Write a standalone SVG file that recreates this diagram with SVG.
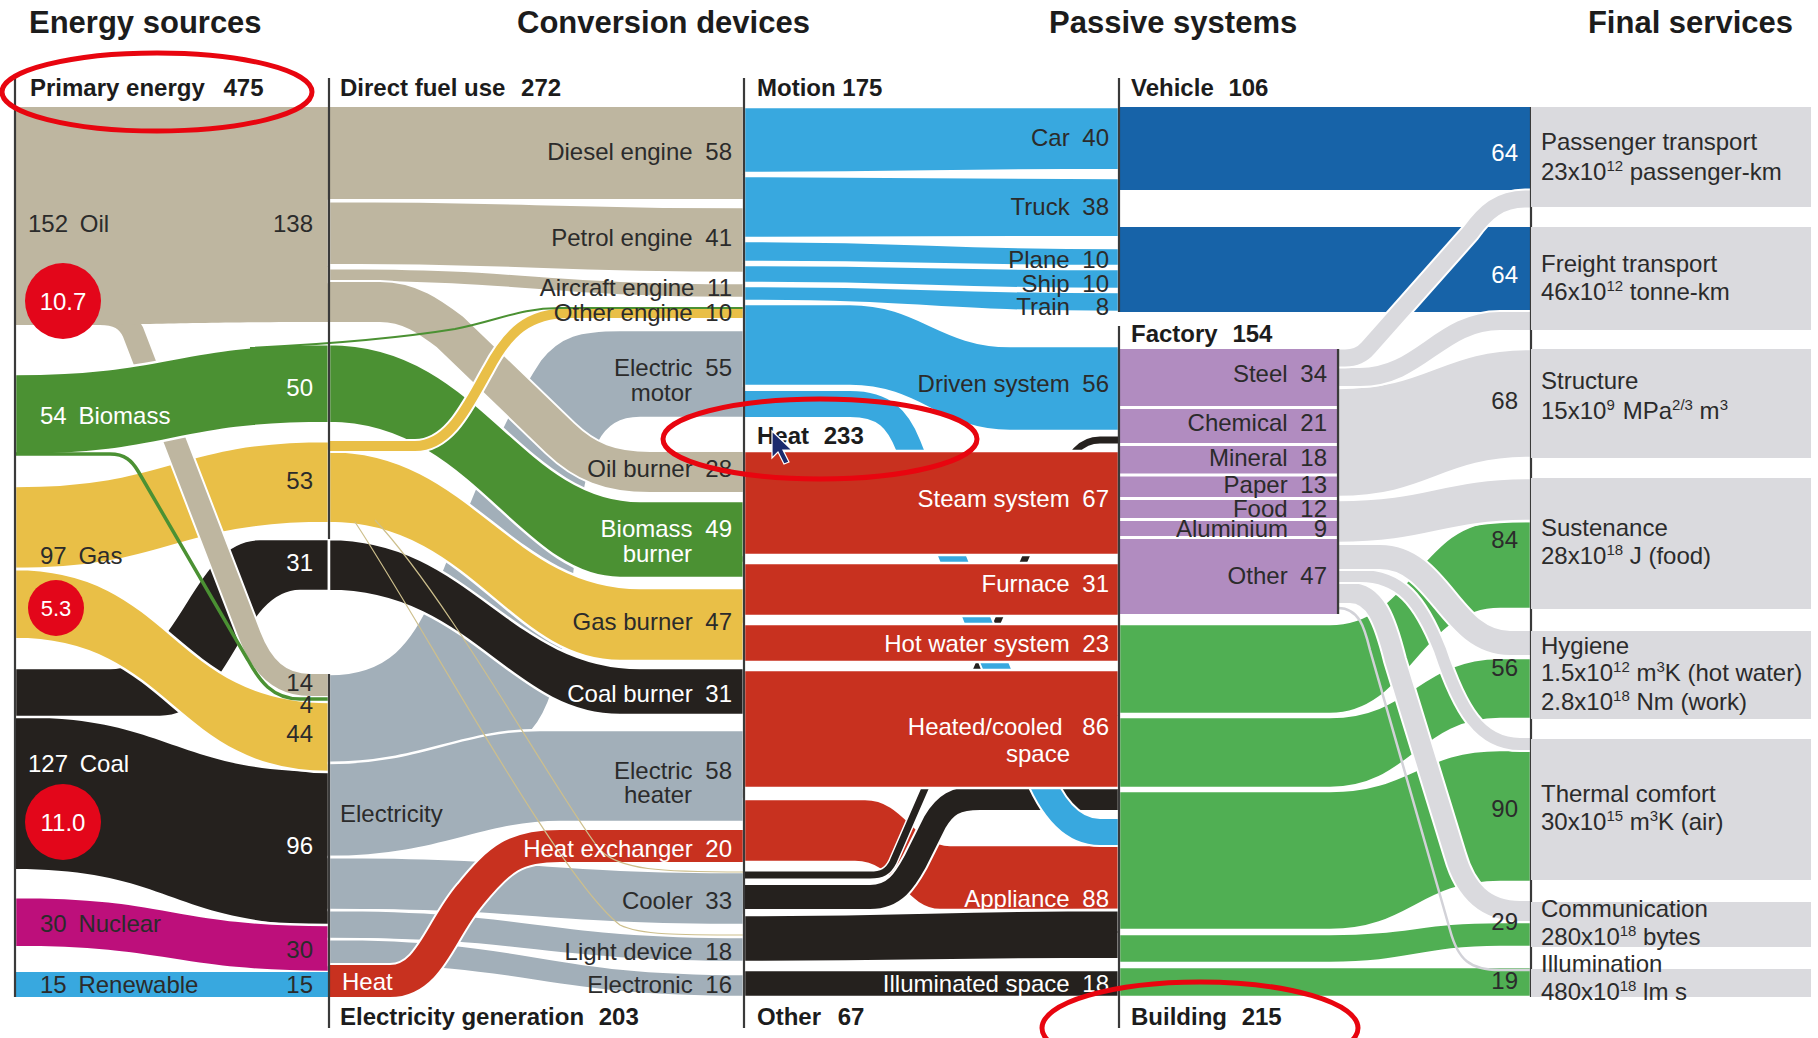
<svg xmlns="http://www.w3.org/2000/svg" width="1818" height="1038" viewBox="0 0 1818 1038">
<style>
text{font-family:"Liberation Sans",Arial,Helvetica,sans-serif}
.h1{font-size:31px;font-weight:bold;fill:#1c1c1c}
.h2{font-size:24px;font-weight:bold;fill:#1c1c1c}
.t{font-size:24px;fill:#2b2b2b}
.tw{font-size:24px;fill:#fff}
.e{text-anchor:end}
.m{text-anchor:middle}
.sup{font-size:15px}
.w{stroke:#fff;stroke-width:2.5}
.oil{fill:#BEB6A0}.bio{fill:#4B9133}.gas{fill:#E9BF47}.coal{fill:#25211E}.nuc{fill:#BD0F7B}.ren{fill:#38A8DF}
.ele{fill:#A2AFB9}.heat{fill:#C8311F}.mot{fill:#38A8DF}.veh{fill:#1763A8}.fac{fill:#B18CC0}.bld{fill:#50AF53}.fs{fill:#DADADE}
.u{fill:none;stroke:#fff}
.s{fill:none}
.vl{stroke:#3a3a3a;stroke-width:2.2;fill:none}
.ring{fill:none;stroke:#E8050F;stroke-width:5}
.dot{fill:#E3061A}
</style>
<defs>
<path id="p-oil14" d="M15 314 H100 C118 314 127 320 133 332 L250 636 C262 667 280 685 310 685 H329"/>
<path id="p-bio4" d="M15 454 H110 C125 454 132 461 138 471 L248 660 C259 680 272 699 300 699 H329"/>
<path id="p-oilb" d="M329 302 H380 C410 302 430 317 450 332 L560 438 C585 462 610 472 650 472 H744"/>
<path id="p-gas10" d="M329 446 H415 C450 446 468 405 488 370 C508 332 528 313 570 313 H744"/>
<path id="p-bio10" d="M250 348 C330 344 400 338 455 329 C500 320 520 308 560 308 H744"/>
<path id="p-hx" d="M329 981 H390 C430 981 440 930 470 895 C500 858 515 846 560 846 H744"/>
<path id="p-ka" d="M744 875 H870 C882 875 888 872 893 862 L1060 478 C1070 455 1080 440 1100 440 H1119"/>
<path id="p-kb" d="M744 897 H870 C895 897 905 880 915 862 L935 822 C945 805 955 798 980 798 H1119"/>
<path id="p-blue" d="M744 404 H850 C885 404 898 420 908 445 L1035 765 C1048 800 1068 832 1100 832 H1119"/>
<path id="p-f1" d="M1338 358 H1345 C1355 358 1362 355 1368 348 L1470 233 C1485 212 1500 199 1525 199 H1531"/>
<path id="p-f2" d="M1338 377 H1360 C1420 377 1440 321 1500 321 H1531"/>
<path id="p-f5" d="M1338 557 H1380 C1440 557 1450 643 1510 643 H1531"/>
<path id="p-f6" d="M1338 576 H1360 C1400 576 1420 600 1440 650 C1460 710 1480 744 1520 744 H1531"/>
<path id="p-f7" d="M1338 593 H1350 C1375 593 1385 620 1395 660 L1455 855 C1465 890 1485 911 1520 911 H1531"/>
<path id="p-f8" d="M1338 608 C1360 608 1365 630 1370 650 L1450 930 C1458 960 1470 970 1500 970 H1531"/>
</defs>

<rect width="1818" height="1038" fill="#fff"/>

<g id="connectors">
  <!-- Energy sources -> direct fuel use / electricity generation -->
  <path class="coal" d="M15 717 C172 717 172 772 329 772 L329 925 C172 925 172 869 15 869 Z"/>
  <path class="nuc w" d="M15 897 C172 897 172 925 329 925 L329 972 C172 972 172 947 15 947 Z"/>
  <path class="ren" d="M15 972 H329 V997 H15 Z"/>
  <path class="coal w" d="M15 668 H110 C180 668 190 539 260 539 H329 V591 H300 C240 591 230 717 160 717 H15 Z"/>
  <path class="gas w" d="M15 486 C172 486 172 441 329 441 L329 523 C172 523 172 569 15 569 Z"/>
  <path class="gas w" d="M15 569 C172 569 172 702 329 702 L329 772 C172 772 172 639 15 639 Z"/>
  <use href="#p-oil14" class="u" stroke-width="26"/>
  <use href="#p-oil14" class="s" stroke="#BEB6A0" stroke-width="22"/>
  <path class="oil" d="M15 107 H329 V322 C172 322 172 325 15 325 Z"/>
  <path class="bio w" d="M15 374 C172 374 172 344 329 344 L329 423 C172 423 172 455 15 455 Z"/>
  <use href="#p-bio4" class="s" stroke="#4B9133" stroke-width="3.5"/>

  <!-- Conversion devices -->
  <path class="ele w" d="M329 674 C390 674 410 640 430 600 C470 500 500 420 540 360 C560 335 580 330 620 330 H744 V418 H640 C600 418 590 450 580 520 C570 620 560 720 520 740 C490 755 420 763 329 763 Z"/>
  <path class="ele w" d="M329 763 C420 763 460 730 540 730 H744 V822 H560 C480 822 440 857 329 857 Z"/>
  <path class="ele w" d="M329 857 C536 857 536 872 744 872 L744 925 C536 925 536 910 329 910 Z"/>
  <path class="ele w" d="M329 910 C536 910 536 937 744 937 L744 962 C536 962 536 939 329 939 Z"/>
  <path class="ele w" d="M329 939 C536 939 536 974 744 974 L744 997 C536 997 536 965 329 965 Z"/>
  <path class="oil" d="M329 107 H744 V199 H329 Z"/>
  <path class="oil w" d="M329 201 C536 201 536 207 744 207 L744 273 C536 273 536 265 329 265 Z"/>
  <path class="oil w" d="M329 268 C536 268 536 283 744 283 L744 298 C536 298 536 282 329 282 Z"/>
  <use href="#p-oilb" class="u" stroke-width="44"/>
  <use href="#p-oilb" class="s" stroke="#BEB6A0" stroke-width="40"/>
  <path class="bio w" d="M329 344 C480 344 520 501 640 501 H744 V578 H620 C520 578 470 423 329 423 Z"/>
  <path class="gas w" d="M329 451 C470 451 510 588 640 588 H744 V661 H620 C510 661 470 523 329 523 Z"/>
  <path class="coal w" d="M329 539 C470 539 510 668 640 668 H744 V715 H620 C510 715 470 591 329 591 Z"/>
  <use href="#p-gas10" class="u" stroke-width="14"/>
  <use href="#p-gas10" class="s" stroke="#E9BF47" stroke-width="10"/>
  <use href="#p-bio10" class="s" stroke="#4B9133" stroke-width="2"/>
  <use href="#p-hx" class="u" stroke-width="36"/>
  <use href="#p-hx" class="s" stroke="#C8311F" stroke-width="32"/>
  <path class="s" stroke="#CDBF8C" stroke-width="1.2" d="M355 522 C420 620 560 880 620 925 C640 935 680 935 744 935"/>
  <path class="s" stroke="#CDBF8C" stroke-width="1.2" d="M375 520 C450 600 560 800 600 850 C620 870 660 872 744 872"/>

  <!-- Passive systems -->
  <path class="mot w" d="M744 107 H1119 V170 C930 170 930 173 744 173 Z"/>
  <path class="mot w" d="M744 176 C930 176 930 178 1119 178 L1119 237 C930 237 930 238 744 238 Z"/>
  <path class="mot w" d="M744 241 C930 241 930 248 1119 248 L1119 266 C930 266 930 262 744 262 Z"/>
  <path class="mot w" d="M744 265 C930 265 930 269 1119 269 L1119 289 C930 289 930 283 744 283 Z"/>
  <path class="mot w" d="M744 286 C930 286 930 292 1119 292 L1119 312 C930 312 930 301 744 301 Z"/>
  <path class="mot w" d="M744 304 H850 C920 304 940 346 1010 346 H1119 V431 H1010 C940 431 920 386 850 386 H744 Z"/>
  <path class="heat w" d="M744 799 H865 C905 799 915 845 950 845 H1119 V910 H940 C905 910 895 862 855 862 H744 Z"/>
  <path class="coal w" d="M744 915 C930 915 930 910 1119 910 L1119 959 C930 959 930 962 744 962 Z"/>
  <path class="coal w" d="M744 970 H1119 V997 H744 Z"/>
  <use href="#p-ka" class="u" stroke-width="10"/>
  <use href="#p-ka" class="s" stroke="#25211E" stroke-width="7"/>
  <use href="#p-kb" class="u" stroke-width="28"/>
  <use href="#p-kb" class="s" stroke="#25211E" stroke-width="24"/>
  <use href="#p-blue" class="u" stroke-width="30"/>
  <use href="#p-blue" class="s" stroke="#38A8DF" stroke-width="26"/>
  <rect class="heat w" x="744" y="451" width="375" height="104"/>
  <rect class="heat w" x="744" y="563" width="375" height="53"/>
  <rect class="heat w" x="744" y="624" width="375" height="38"/>
  <rect class="heat w" x="744" y="670" width="375" height="118"/>

  <!-- Final services -->
  <rect class="veh" x="1119" y="107" width="412" height="83"/>
  <rect class="veh" x="1119" y="227" width="412" height="85"/>
  <path class="bld w" d="M1119 624 H1330 C1410 624 1420 521 1500 521 H1531 V609 H1500 C1420 609 1410 714 1330 714 H1119 Z"/>
  <path class="bld w" d="M1119 717 H1330 C1410 717 1420 658 1500 658 H1531 V719 H1500 C1420 719 1410 788 1330 788 H1119 Z"/>
  <path class="bld w" d="M1119 791 H1330 C1410 791 1420 750 1500 750 H1531 V882 H1500 C1420 882 1410 930 1330 930 H1119 Z"/>
  <path class="bld w" d="M1119 934 H1330 C1410 934 1420 922 1500 922 H1531 V947 H1500 C1420 947 1410 963 1330 963 H1119 Z"/>
  <path class="bld w" d="M1119 967 H1531 V997 H1119 Z"/>
  <path class="fs w" d="M1338 388 C1430 388 1440 349 1531 349 L1531 458 C1440 458 1430 497 1338 497 Z"/>
  <path class="fs w" d="M1338 500 C1430 500 1440 478 1531 478 L1531 521 C1440 521 1430 543 1338 543 Z"/>
  <use href="#p-f8" class="s" stroke="#D2D2D8" stroke-width="2.5"/>
  <use href="#p-f7" class="u" stroke-width="24"/>
  <use href="#p-f7" class="s" stroke="#DADADE" stroke-width="20"/>
  <use href="#p-f6" class="u" stroke-width="16"/>
  <use href="#p-f6" class="s" stroke="#DADADE" stroke-width="12"/>
  <use href="#p-f5" class="u" stroke-width="28"/>
  <use href="#p-f5" class="s" stroke="#DADADE" stroke-width="24"/>
  <use href="#p-f2" class="u" stroke-width="22"/>
  <use href="#p-f2" class="s" stroke="#DADADE" stroke-width="18"/>
  <use href="#p-f1" class="u" stroke-width="21"/>
  <use href="#p-f1" class="s" stroke="#DADADE" stroke-width="17"/>
</g>

<g id="headers">
  <text class="h1" x="29" y="33">Energy sources</text>
  <text class="h1" x="517" y="33">Conversion devices</text>
  <text class="h1" x="1049" y="33">Passive systems</text>
  <text class="h1 e" x="1793" y="33">Final services</text>
</g>

<g id="axes">
  <path class="vl" d="M15 78 V997 M329 78 V539 M329 674 V1028 M744 78 V1028 M1119 78 V312 M1119 326 V1028 M1338 349 V614 M1531 107 V997"/>
</g>

<g id="node-primary-energy">
  <text class="h2" x="30" y="96">Primary energy <tspan dx="12">475</tspan></text>
</g>
<g id="node-oil">
  <text class="t" x="28" y="232">152 <tspan dx="5">Oil</tspan></text>
  <text class="t e" x="313" y="232">138</text>
  <circle class="dot" cx="63" cy="301" r="38"/>
  <text class="tw m" x="63" y="310">10.7</text>
  <text class="t e" x="313" y="691">14</text>
</g>
<g id="node-biomass">
  <text class="tw" x="40" y="424">54 <tspan dx="5">Biomass</tspan></text>
  <text class="tw e" x="313" y="396">50</text>
  <text class="t e" x="313" y="713">4</text>
</g>
<g id="node-gas">
  <text class="t" x="40" y="564">97 <tspan dx="5">Gas</tspan></text>
  <text class="t e" x="313" y="489">53</text>
  <circle class="dot" cx="56" cy="608" r="28"/>
  <text class="tw m" x="56" y="616" style="font-size:22px">5.3</text>
  <text class="t e" x="313" y="742">44</text>
</g>
<g id="node-coal">
  <text class="tw" x="28" y="772">127 <tspan dx="5">Coal</tspan></text>
  <text class="tw e" x="313" y="571">31</text>
  <circle class="dot" cx="63" cy="822" r="38"/>
  <text class="tw m" x="63" y="831">11.0</text>
  <text class="tw e" x="313" y="854">96</text>
</g>
<g id="node-nuclear">
  <text class="t" x="40" y="932">30 <tspan dx="5">Nuclear</tspan></text>
  <text class="t e" x="313" y="958">30</text>
</g>
<g id="node-renewable">
  <text class="t" x="40" y="993">15 <tspan dx="5">Renewable</tspan></text>
  <text class="t e" x="313" y="993">15</text>
</g>

<g id="node-direct-fuel-use">
  <text class="h2" x="340" y="96">Direct fuel use <tspan dx="9">272</tspan></text>
</g>
<g id="node-electricity-generation">
  <text class="h2" x="340" y="1025">Electricity generation <tspan dx="8">203</tspan></text>
  <text class="t" x="340" y="822">Electricity</text>
  <text class="tw" x="342" y="990">Heat</text>
</g>

<g id="node-diesel-engine"><text class="t e" x="732" y="160">Diesel engine <tspan dx="6">58</tspan></text></g>
<g id="node-petrol-engine"><text class="t e" x="732" y="246">Petrol engine <tspan dx="6">41</tspan></text></g>
<g id="node-aircraft-engine"><text class="t e" x="732" y="296">Aircraft engine <tspan dx="6">11</tspan></text></g>
<g id="node-other-engine"><text class="t e" x="732" y="321">Other engine <tspan dx="6">10</tspan></text></g>
<g id="node-electric-motor"><text class="t e" x="732" y="376">Electric <tspan dx="6">55</tspan></text><text class="t e" x="692" y="401">motor</text></g>
<g id="node-oil-burner"><text class="t e" x="732" y="477">Oil burner <tspan dx="6">28</tspan></text></g>
<g id="node-biomass-burner"><text class="tw e" x="732" y="537">Biomass <tspan dx="6">49</tspan></text><text class="tw e" x="692" y="562">burner</text></g>
<g id="node-gas-burner"><text class="t e" x="732" y="630">Gas burner <tspan dx="6">47</tspan></text></g>
<g id="node-coal-burner"><text class="tw e" x="732" y="702">Coal burner <tspan dx="6">31</tspan></text></g>
<g id="node-electric-heater"><text class="t e" x="732" y="779">Electric <tspan dx="6">58</tspan></text><text class="t e" x="692" y="803">heater</text></g>
<g id="node-heat-exchanger"><text class="tw e" x="732" y="857">Heat exchanger <tspan dx="6">20</tspan></text></g>
<g id="node-cooler"><text class="t e" x="732" y="909">Cooler <tspan dx="6">33</tspan></text></g>
<g id="node-light-device"><text class="t e" x="732" y="960">Light device <tspan dx="6">18</tspan></text></g>
<g id="node-electronic"><text class="t e" x="732" y="993">Electronic <tspan dx="6">16</tspan></text></g>

<g id="node-motion"><text class="h2" x="757" y="96">Motion 175</text></g>
<g id="node-heat"><text class="h2" x="757" y="444">Heat <tspan dx="8">233</tspan></text></g>
<g id="node-other"><text class="h2" x="757" y="1025">Other <tspan dx="10">67</tspan></text></g>

<g id="node-car"><text class="t e" x="1109" y="146">Car <tspan dx="6">40</tspan></text></g>
<g id="node-truck"><text class="t e" x="1109" y="215">Truck <tspan dx="6">38</tspan></text></g>
<g id="node-plane"><text class="t e" x="1109" y="268">Plane <tspan dx="6">10</tspan></text></g>
<g id="node-ship"><text class="t e" x="1109" y="292">Ship <tspan dx="6">10</tspan></text></g>
<g id="node-train"><text class="t e" x="1109" y="315">Train <tspan dx="19">8</tspan></text></g>
<g id="node-driven-system"><text class="t e" x="1109" y="392">Driven system <tspan dx="6">56</tspan></text></g>
<g id="node-steam-system"><text class="tw e" x="1109" y="507">Steam system <tspan dx="6">67</tspan></text></g>
<g id="node-furnace"><text class="tw e" x="1109" y="592">Furnace <tspan dx="6">31</tspan></text></g>
<g id="node-hot-water-system"><text class="tw e" x="1109" y="652">Hot water system <tspan dx="6">23</tspan></text></g>
<g id="node-heated-cooled-space"><text class="tw e" x="1109" y="735">Heated/cooled <tspan dx="13">86</tspan></text><text class="tw e" x="1070" y="762">space</text></g>
<g id="node-appliance"><text class="tw e" x="1109" y="907">Appliance <tspan dx="6">88</tspan></text></g>
<g id="node-illuminated-space"><text class="tw e" x="1109" y="992">Illuminated space <tspan dx="6">18</tspan></text></g>

<g id="node-vehicle"><text class="h2" x="1131" y="96">Vehicle <tspan dx="8">106</tspan></text></g>
<g id="node-factory">
  <text class="h2" x="1131" y="342">Factory <tspan dx="8">154</tspan></text>
  <rect class="fac" x="1119" y="349" width="219" height="265"/>
  <path d="M1119 407.5 H1338 M1119 444.5 H1338 M1119 475 H1338 M1119 498.5 H1338 M1119 519.5 H1338 M1119 537.5 H1338" stroke="#fff" stroke-width="3"/>
  <path class="vl" d="M1119 349 V614 M1338 349 V614"/>
  <text class="t e" x="1327" y="382">Steel <tspan dx="6">34</tspan></text>
  <text class="t e" x="1327" y="431">Chemical <tspan dx="6">21</tspan></text>
  <text class="t e" x="1327" y="466">Mineral <tspan dx="6">18</tspan></text>
  <text class="t e" x="1327" y="493">Paper <tspan dx="6">13</tspan></text>
  <text class="t e" x="1327" y="517">Food <tspan dx="6">12</tspan></text>
  <text class="t e" x="1327" y="537">Aluminium <tspan dx="19">9</tspan></text>
  <text class="t e" x="1327" y="584">Other <tspan dx="6">47</tspan></text>
</g>
<g id="node-building"><text class="h2" x="1131" y="1025">Building <tspan dx="8">215</tspan></text></g>

<g id="node-passenger-transport">
  <rect class="fs" x="1531" y="107" width="280" height="100"/>
  <text class="tw e" x="1518" y="161">64</text>
  <text class="t" x="1541" y="150">Passenger transport</text>
  <text class="t" x="1541" y="180">23x10<tspan class="sup" dy="-9">12</tspan><tspan dy="9"> passenger-km</tspan></text>
</g>
<g id="node-freight-transport">
  <rect class="fs" x="1531" y="227" width="280" height="103"/>
  <text class="tw e" x="1518" y="283">64</text>
  <text class="t" x="1541" y="272">Freight transport</text>
  <text class="t" x="1541" y="300">46x10<tspan class="sup" dy="-9">12</tspan><tspan dy="9"> tonne-km</tspan></text>
</g>
<g id="node-structure">
  <rect class="fs" x="1531" y="349" width="280" height="109"/>
  <text class="t e" x="1518" y="409">68</text>
  <text class="t" x="1541" y="389">Structure</text>
  <text class="t" x="1541" y="419">15x10<tspan class="sup" dy="-9">9</tspan><tspan dy="9" dx="8">MPa</tspan><tspan class="sup" dy="-9">2/3</tspan><tspan dy="9"> m</tspan><tspan class="sup" dy="-9">3</tspan></text>
</g>
<g id="node-sustenance">
  <rect class="fs" x="1531" y="478" width="280" height="131"/>
  <text class="t e" x="1518" y="548">84</text>
  <text class="t" x="1541" y="536">Sustenance</text>
  <text class="t" x="1541" y="564">28x10<tspan class="sup" dy="-9">18</tspan><tspan dy="9"> J (food)</tspan></text>
</g>
<g id="node-hygiene">
  <rect class="fs" x="1531" y="631" width="280" height="88"/>
  <text class="t e" x="1518" y="676">56</text>
  <text class="t" x="1541" y="654">Hygiene</text>
  <text class="t" x="1541" y="681">1.5x10<tspan class="sup" dy="-9">12</tspan><tspan dy="9"> m</tspan><tspan class="sup" dy="-9">3</tspan><tspan dy="9">K (hot water)</tspan></text>
  <text class="t" x="1541" y="710">2.8x10<tspan class="sup" dy="-9">18</tspan><tspan dy="9"> Nm (work)</tspan></text>
</g>
<g id="node-thermal-comfort">
  <rect class="fs" x="1531" y="739" width="280" height="141"/>
  <text class="t e" x="1518" y="817">90</text>
  <text class="t" x="1541" y="802">Thermal comfort</text>
  <text class="t" x="1541" y="830">30x10<tspan class="sup" dy="-9">15</tspan><tspan dy="9"> m</tspan><tspan class="sup" dy="-9">3</tspan><tspan dy="9">K (air)</tspan></text>
</g>
<g id="node-communication">
  <rect class="fs" x="1531" y="902" width="280" height="45"/>
  <text class="t e" x="1518" y="930">29</text>
  <text class="t" x="1541" y="917">Communication</text>
  <text class="t" x="1541" y="945">280x10<tspan class="sup" dy="-9">18</tspan><tspan dy="9"> bytes</tspan></text>
</g>
<g id="node-illumination">
  <rect class="fs" x="1531" y="969" width="280" height="28"/>
  <text class="t e" x="1518" y="989">19</text>
  <text class="t" x="1541" y="972">Illumination</text>
  <text class="t" x="1541" y="1000">480x10<tspan class="sup" dy="-9">18</tspan><tspan dy="9"> lm s</tspan></text>
</g>

<g id="annotations">
  <ellipse class="ring" cx="157" cy="92" rx="155" ry="39"/>
  <ellipse class="ring" cx="820" cy="439" rx="157" ry="40"/>
  <ellipse class="ring" cx="1200" cy="1028" rx="158" ry="46"/>
  <polygon points="772,431 772,458 778,452 784,464 789,462 783,450 792,450" fill="#1b2a6e" stroke="#fff" stroke-width="1.2"/>
</g>
</svg>
